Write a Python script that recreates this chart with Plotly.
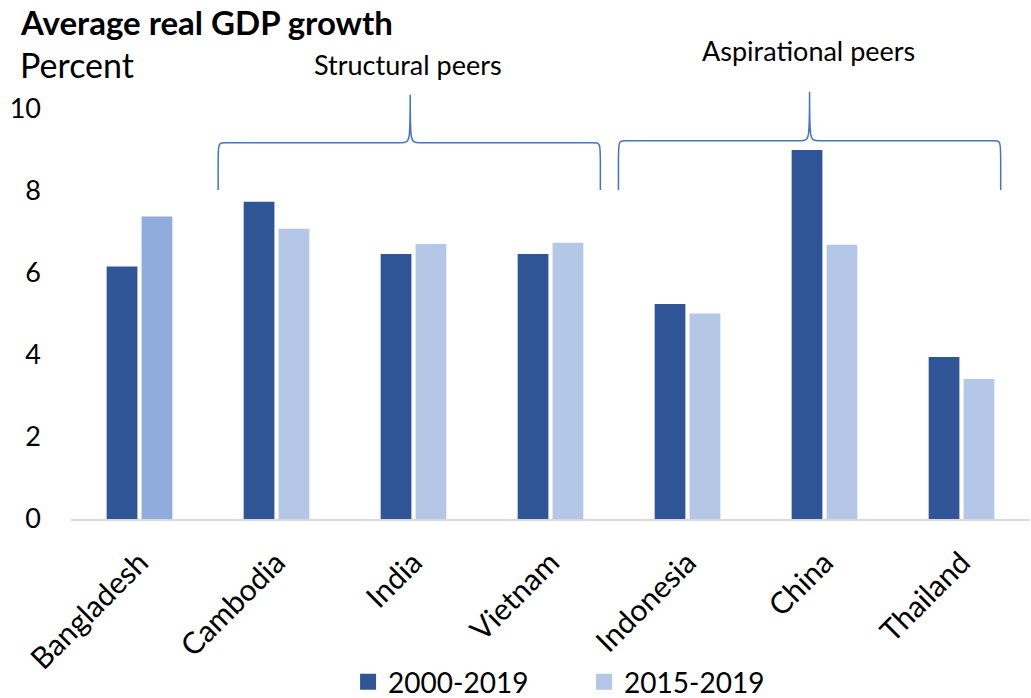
import plotly.graph_objects as go

# Average real GDP growth, percent
countries = ["Bangladesh", "Cambodia", "India", "Vietnam", "Indonesia", "China", "Thailand"]
growth_2000_2019 = [6.15, 7.73, 6.46, 6.46, 5.24, 8.99, 3.95]
growth_2015_2019 = [7.37, 7.07, 6.70, 6.73, 5.01, 6.68, 3.41]
series_names = ["2000-2019", "2015-2019"]
y_ticks = [0, 2, 4, 6, 8, 10]

DARK = "#2F5597"
LIGHT = "#B4C7E7"
HIGHLIGHT = "#8FACDC"   # Bangladesh, the focus country
BRACE = "#4472C4"
FONT = "Lato, Carlito, Calibri, sans-serif"

x_idx = list(range(len(countries)))
light_colors = [HIGHLIGHT if c == "Bangladesh" else LIGHT for c in countries]

fig = go.Figure()
fig.add_trace(go.Bar(x=x_idx, y=growth_2000_2019, name=series_names[0],
                     marker=dict(color=DARK, line=dict(width=0)), showlegend=False))
fig.add_trace(go.Bar(x=x_idx, y=growth_2015_2019, name=series_names[1],
                     marker=dict(color=light_colors, line=dict(width=0)), showlegend=False))

# square legend keys
for name, col in zip(series_names, [DARK, LIGHT]):
    fig.add_trace(go.Scatter(x=[None], y=[None], mode="markers", name=name,
                             marker=dict(symbol="square", size=16, color=col)))


def brace(x0, xp, x1, y_base, y_bar, y_tip, dx=0.06, dy=0.5, dp=0.07):
    """Curly brace opening downward, spanning x0..x1 with its tip at xp."""
    return (f"M {x0},{y_base} L {x0},{y_bar - dy} "
            f"C {x0},{y_bar} {x0},{y_bar} {x0 + dx},{y_bar} "
            f"L {xp - dp},{y_bar} "
            f"C {xp},{y_bar} {xp},{y_bar} {xp},{y_tip} "
            f"C {xp},{y_bar} {xp},{y_bar} {xp + dp},{y_bar} "
            f"L {x1 - dx},{y_bar} "
            f"C {x1},{y_bar} {x1},{y_bar} {x1},{y_bar - dy} "
            f"L {x1},{y_base}")


fig.add_shape(type="path", xref="x", yref="y", layer="above",
              path=brace(0.574, 1.976, 3.364, 8.02, 9.17, 10.34),
              line=dict(color=BRACE, width=1.5))
fig.add_shape(type="path", xref="x", yref="y", layer="above",
              path=brace(3.496, 4.891, 6.286, 8.02, 9.22, 10.41),
              line=dict(color=BRACE, width=1.5))

annotations = [
    dict(text="<b>Average real GDP growth</b>", xref="paper", yref="paper",
         x=-0.055, y=1.192, xanchor="left", yanchor="top",
         font=dict(size=33, color="#000000", family=FONT), showarrow=False),
    dict(text="Percent", xref="paper", yref="paper",
         x=-0.055, y=1.045, xanchor="left", yanchor="middle",
         font=dict(size=34, color="#000000", family=FONT), showarrow=False),
    dict(text="Structural peers", xref="x", yref="paper",
         x=1.962, y=1.044, xanchor="center", yanchor="middle",
         font=dict(size=27, color="#000000", family=FONT), showarrow=False),
    dict(text="Aspirational peers", xref="x", yref="paper",
         x=4.883, y=1.078, xanchor="center", yanchor="middle",
         font=dict(size=27, color="#000000", family=FONT), showarrow=False),
]

fig.update_layout(
    width=1031, height=698,
    margin=dict(l=71, r=1, t=84, b=179, autoexpand=False),
    paper_bgcolor="white", plot_bgcolor="white",
    barmode="group", bargap=0.49, bargroupgap=0.12,
    font=dict(family=FONT, color="#000000"),
    annotations=annotations,
    legend=dict(orientation="h", x=0.535, y=-0.375, xanchor="center", yanchor="middle",
                font=dict(size=28, family=FONT), entrywidth=191, entrywidthmode="pixels",
                bgcolor="rgba(0,0,0,0)"),
    xaxis=dict(range=[-0.5, 6.5], tickvals=x_idx, ticktext=countries, tickangle=-45,
               showgrid=False, zeroline=False, showline=True, linecolor="#D9D9D9",
               linewidth=2, ticks="", tickfont=dict(size=30, family=FONT),
               ticklabelstandoff=12),
    yaxis=dict(range=[0, 10.6], tickvals=y_ticks, showgrid=False, zeroline=False,
               showline=False, ticks="", tickfont=dict(size=27, family=FONT),
               ticklabelstandoff=29),
)

fig.write_html("out.html")
